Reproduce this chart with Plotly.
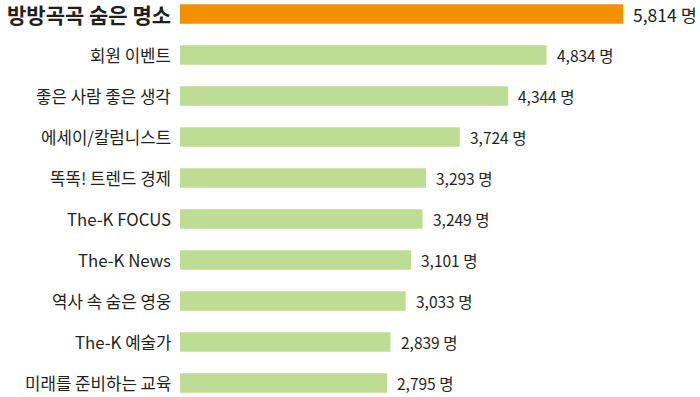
import plotly.graph_objects as go

categories = ["방방곡곡 숨은 명소", "회원 이벤트", "좋은 사람 좋은 생각", "에세이/칼럼니스트",
              "똑똑! 트렌드 경제", "The-K FOCUS", "The-K News", "역사 속 숨은 영웅",
              "The-K 예술가", "미래를 준비하는 교육"]
values = [5814, 4834, 4344, 3724, 3293, 3249, 3101, 3033, 2839, 2795]
unit = "명"

W, H = 700, 397
FONT = "Noto Sans CJK KR, Noto Sans, sans-serif"
TXT = "#231f20"
colors = ["#F29100"] + ["#BEDC94"] * (len(values) - 1)

ys = list(range(len(values)))

fig = go.Figure()
fig.add_trace(go.Bar(
    x=values, y=ys, orientation="h", width=0.48,
    marker=dict(color=colors, line=dict(width=0)),
    hoverinfo="skip",
))

annotations = []
for i, (c, v) in enumerate(zip(categories, values)):
    top = i == 0
    annotations.append(dict(
        xref="paper", yref="y", x=173 / W, y=i, xanchor="right", yanchor="middle",
        text=f"<b>{c}</b>" if top else c, showarrow=False,
        font=dict(family=FONT, size=21 if top else 16.8, color=TXT),
    ))
    annotations.append(dict(
        xref="x", yref="y", x=v, y=i, xanchor="left", yanchor="middle", xshift=8,
        text=f"{v:,} {unit}", showarrow=False,
        font=dict(family=FONT, size=17.5 if top else 15.5, color=TXT),
    ))

# reference pixel mapping: value 0 at ~168.5px, 0.0782 px per unit; plot area starts at 180px
x0 = (180 - 168.5) / 0.0782
x1 = (700 - 168.5) / 0.0782
row = 41.0
y_top = -14 / row
y_bot = 9 + (397 - 383) / row

fig.update_layout(
    width=W, height=H,
    margin=dict(l=0, r=0, t=0, b=0),
    paper_bgcolor="white", plot_bgcolor="white",
    showlegend=False,
    hovermode=False,
    xaxis=dict(domain=[180 / W, 1], range=[x0, x1], visible=False, fixedrange=True),
    yaxis=dict(range=[y_bot, y_top], visible=False, fixedrange=True),
    annotations=annotations,
)

fig.write_html("out.html", config={"displayModeBar": False, "staticPlot": True},
               post_script="document.body.style.margin='0';")
